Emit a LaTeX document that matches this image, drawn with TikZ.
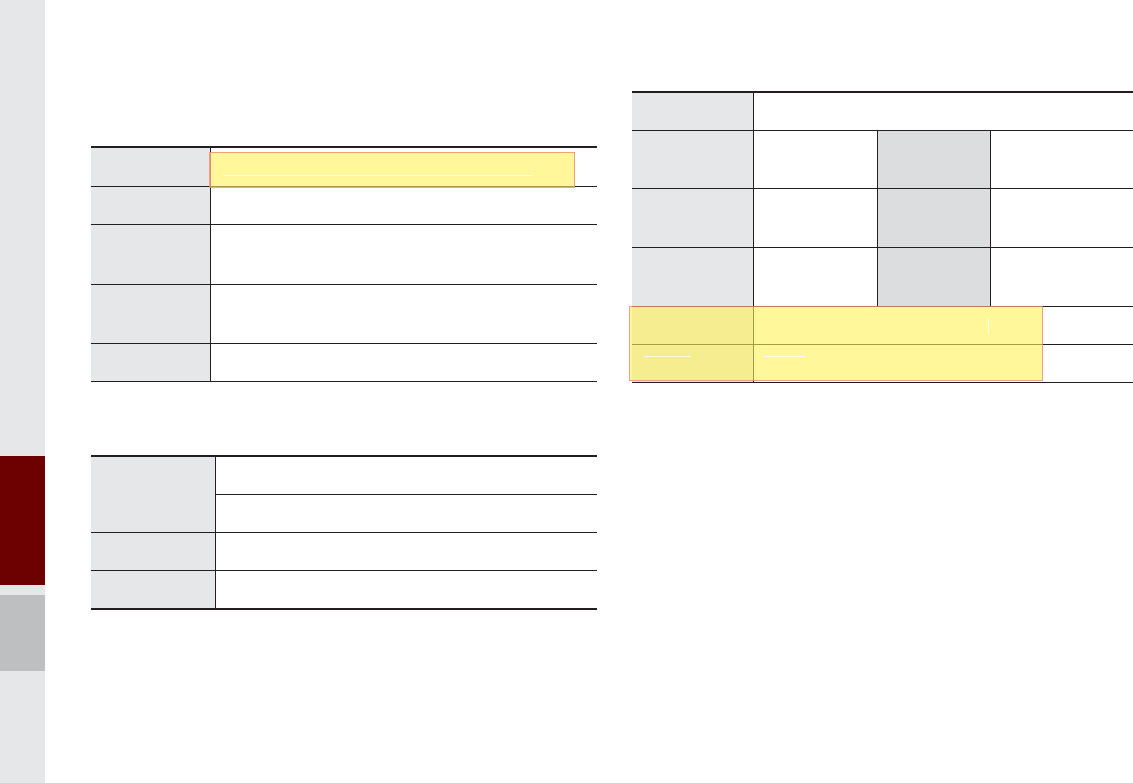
\documentclass[tikz,border=0pt]{standalone}
\begin{document}
\begin{tikzpicture}[x=1pt,y=-1pt,
  rule/.style={draw=linecol,line width=0.8pt},
  thick rule/.style={draw=linecol,line width=2pt},
  headfill/.style={fill=headgray},
  midfill/.style={fill=midgray},
  hilite/.style={fill=hiyellow,fill opacity=0.6,draw=hiborder,draw opacity=0.8,line width=1.3pt},
  ghost/.style={draw=white,line width=0.6pt,opacity=0.8}]
\definecolor{linecol}{HTML}{231F20}
\definecolor{headgray}{HTML}{E6E7E8}
\definecolor{midgray}{HTML}{DCDDDE}
\definecolor{hiyellow}{RGB}{255,242,85}
\definecolor{hiborder}{HTML}{F08A70}
\definecolor{sidered}{HTML}{6D0000}
\definecolor{sidegray}{HTML}{BEBFC1}
\useasboundingbox (0,0) rectangle (1133,783);
\fill[white] (0,0) rectangle (1133,783);
% sidebar
\fill[headgray] (0,0) rectangle (45,783);
\fill[sidered] (0,456) rectangle (45,585);
\fill[sidegray] (0,595) rectangle (45,671);

% ---------- table 1 ----------
\fill[headfill] (91,147) rectangle (210,381);
\foreach \y in {186,224,284,343,381} \draw[rule] (91,\y) -- (597,\y);
\draw[rule] (210,147) -- (210,381);
\draw[thick rule] (91,147) -- (597,147);
\draw[hilite] (210,152.5) rectangle (574.5,187.5);
\draw[ghost] (222.5,175.7) -- (533.4,175.7);

% ---------- table 2 ----------
\fill[headfill] (91,456) rectangle (215,609);
\draw[rule] (215,494) -- (597,494);
\foreach \y in {532,570} \draw[rule] (91,\y) -- (597,\y);
\draw[rule] (215,456) -- (215,609);
\draw[thick rule] (91,456) -- (597,456);
\draw[thick rule] (91,609) -- (597,609);

% ---------- right table ----------
\fill[headfill] (632,92) rectangle (753,382);
\fill[midfill] (877,130) rectangle (990,306);
\foreach \y in {130,188,247,306,344,382} \draw[rule] (632,\y) -- (1133,\y);
\draw[rule] (753,92) -- (753,382);
\draw[rule] (877,130) -- (877,306);
\draw[rule] (990,130) -- (990,306);
\draw[thick rule] (632,92) -- (1133,92);
\draw[hilite] (629.5,306.7) rectangle (1042.3,380.3);
\draw[ghost] (988.7,318) -- (988.7,334);
\draw[ghost] (644,356) -- (691,356);
\draw[ghost] (764,356) -- (805,356);
\end{tikzpicture}
\end{document}
